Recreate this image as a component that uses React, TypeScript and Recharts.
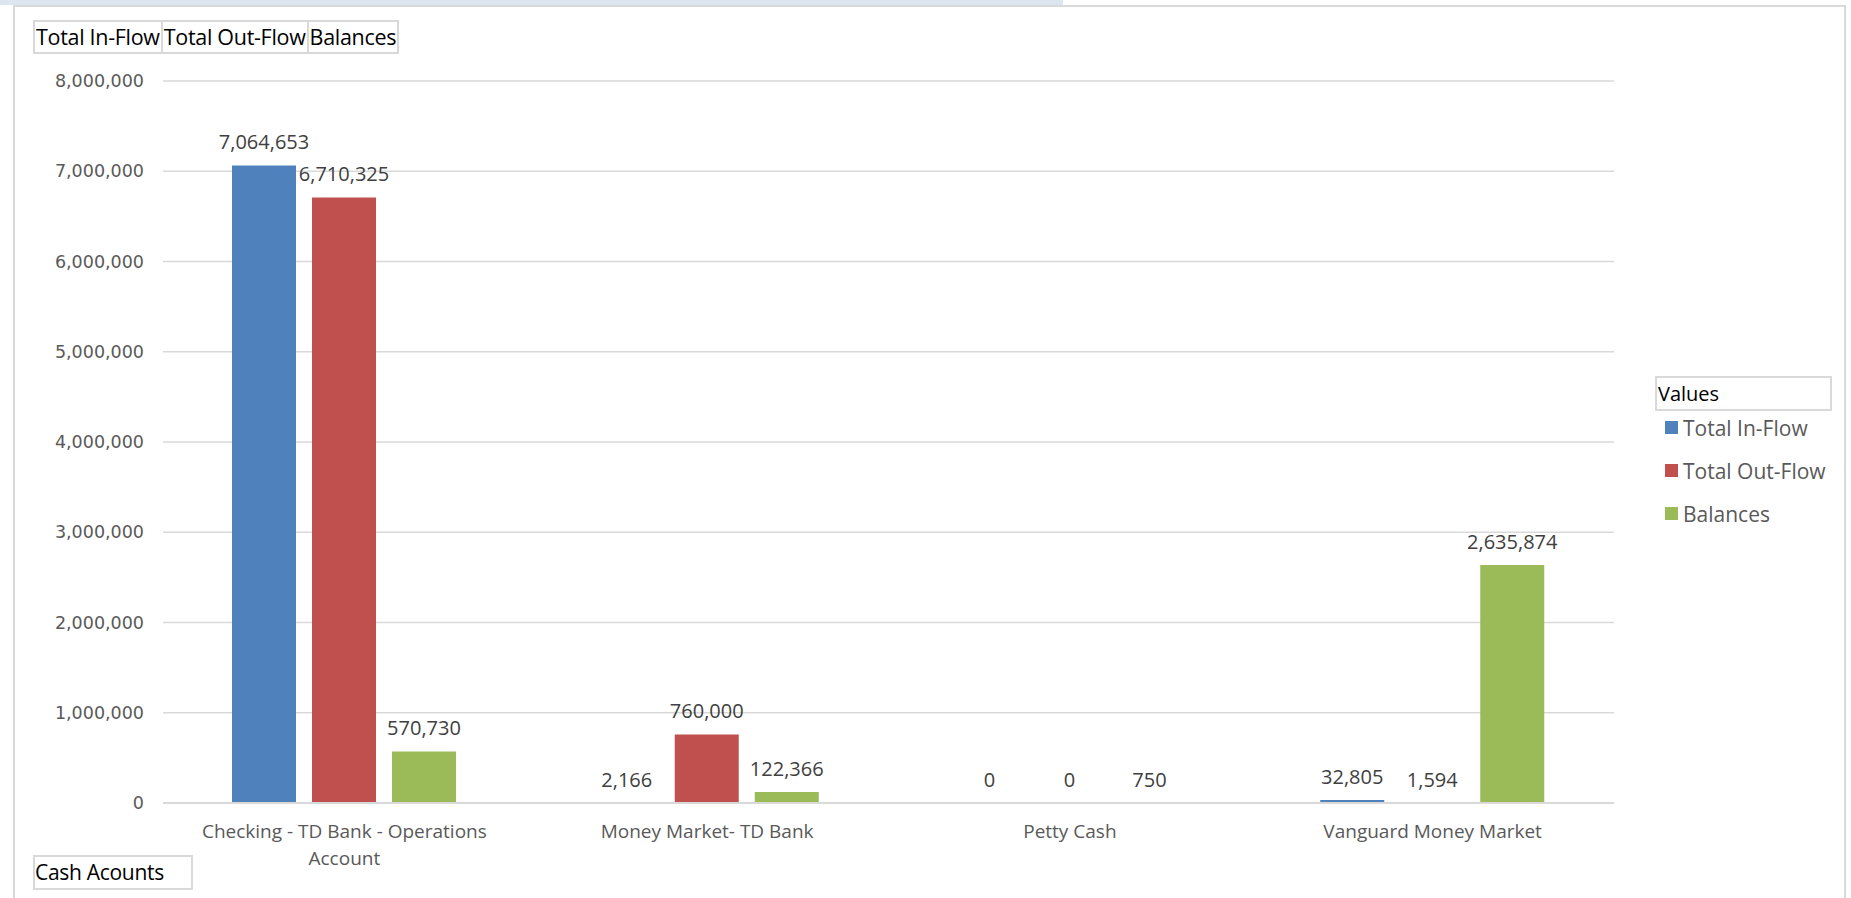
import React from "react"
import { Bar, BarChart, CartesianGrid, LabelList, Legend, XAxis, YAxis } from "recharts"

const categories = [
  "Checking - TD Bank - Operations Account",
  "Money Market- TD Bank",
  "Petty Cash",
  "Vanguard Money Market",
]
const inFlow = [7064653, 2166, 0, 32805]
const outFlow = [6710325, 760000, 0, 1594]
const balances = [570730, 122366, 750, 2635874]
const yTicks = [0, 1000000, 2000000, 3000000, 4000000, 5000000, 6000000, 7000000, 8000000]

const seriesNames = ["Total In-Flow", "Total Out-Flow", "Balances"]
const colors = ["#4F81BD", "#C0504D", "#9BBB59"]

const data = categories.map((name, i) => ({
  name,
  inFlow: inFlow[i],
  outFlow: outFlow[i],
  balances: balances[i],
}))

const labelFont = "'Open Sans', sans-serif"
const fmt = (v: number) => v.toLocaleString("en-US")

let ctx: CanvasRenderingContext2D | null = null
function measure(s: string, font: string) {
  if (!ctx) ctx = document.createElement("canvas").getContext("2d")
  if (!ctx) return s.length * 9
  ctx.font = font
  return ctx.measureText(s).width
}

// greedy word wrap, like Excel does for long category names
function wrap(text: string, maxWidth: number, font: string) {
  const lines: string[] = []
  let cur = ""
  for (const w of text.split(" ")) {
    const next = cur ? cur + " " + w : w
    if (cur && measure(next, font) > maxWidth) {
      lines.push(cur)
      cur = w
    } else {
      cur = next
    }
  }
  if (cur) lines.push(cur)
  return lines
}

function CategoryTick({ x, y, payload }: any) {
  const lines = wrap(payload.value, 300, "19px 'Open Sans'")
  return (
    <text x={x} y={y} textAnchor="middle" fill="#595959" fontSize={19} fontFamily={labelFont}>
      {lines.map((l, i) => (
        <tspan key={i} x={x} dy={i === 0 ? "0.9em" : 27}>
          {l}
        </tspan>
      ))}
    </text>
  )
}

function LegendBox() {
  return (
    <div style={{ fontFamily: labelFont, textAlign: "left" }}>
      <div
        style={{
          width: 172,
          height: 31,
          border: "2px solid #d9d9d9",
          fontSize: 20,
          color: "#000",
          lineHeight: "31px",
          paddingLeft: 1,
          boxSizing: "content-box",
          marginBottom: -5,
        }}
      >
        Values
      </div>
      {seriesNames.map((s, i) => (
        <div key={s} style={{ display: "flex", alignItems: "center", height: 43, paddingLeft: 10 }}>
          <span style={{ width: 13, height: 13, background: colors[i], marginRight: 5 }} />
          <span style={{ fontSize: 21, color: "#595959" }}>{s}</span>
        </div>
      ))}
    </div>
  )
}

const boxCell: React.CSSProperties = {
  display: "inline-block",
  borderRight: "2px solid #d9d9d9",
  padding: "0 1px",
  lineHeight: "30px",
}

export default function App() {
  return (
    <div style={{ position: "relative", width: 1851, height: 898, background: "#fff", overflow: "hidden" }}>
      <style>{"body{margin:0}"}</style>
      {/* top strip and frame */}
      <div style={{ position: "absolute", left: 0, top: 0, width: 1063, height: 5, background: "#dce6f1" }} />
      <div
        style={{
          position: "absolute",
          left: 13,
          top: 5,
          width: 1829,
          height: 900,
          borderTop: "2px solid #d9d9d9",
          borderLeft: "2px solid #d9d9d9",
          borderRight: "2px solid #d9d9d9",
        }}
      />

      <div
        style={{
          position: "absolute",
          left: 33,
          top: 20,
          border: "2px solid #d9d9d9",
          borderRight: "none",
          fontFamily: labelFont,
          fontSize: 21.5,
          letterSpacing: -0.3,
          color: "#000",
          whiteSpace: "nowrap",
          display: "flex",
        }}
      >
        {seriesNames.map((s) => (
          <span key={s} style={boxCell}>
            {s}
          </span>
        ))}
      </div>

      <div
        style={{
          position: "absolute",
          left: 33,
          top: 855,
          width: 156,
          height: 31,
          border: "2px solid #d9d9d9",
          fontFamily: labelFont,
          fontSize: 21,
          letterSpacing: -0.3,
          lineHeight: "31px",
          color: "#000",
          whiteSpace: "nowrap",
        }}
      >
        Cash Acounts
      </div>

      <div style={{ position: "absolute", left: 0, top: 0 }}>
        <BarChart
          width={1851}
          height={898}
          data={data}
          margin={{ top: 81, right: 237, bottom: 35, left: 13 }}
          barSize={64}
          barGap={16}
        >
          <CartesianGrid vertical={false} stroke="#d9d9d9" strokeWidth={1.5} />
          <XAxis
            dataKey="name"
            interval={0}
            height={60}
            tickLine={false}
            axisLine={{ stroke: "#d9d9d9", strokeWidth: 2 }}
            tick={<CategoryTick />}
            tickMargin={12}
          />
          <YAxis
            width={150}
            domain={[0, 8000000]}
            ticks={yTicks}
            tickFormatter={fmt}
            tickLine={false}
            axisLine={false}
            tickMargin={13}
            tick={{ fill: "#595959", fontSize: 17.5, fontFamily: "'DejaVu Sans', sans-serif" }}
          />
          <Legend
            layout="horizontal"
            align="center"
            verticalAlign="middle"
            wrapperStyle={{ left: 1655, top: 376, width: 180 }}
            content={<LegendBox />}
          />
          {["inFlow", "outFlow", "balances"].map((k, i) => (
            <Bar
              key={k}
              dataKey={k}
              name={seriesNames[i]}
              fill={colors[i]}
              minPointSize={0.01}
              isAnimationActive={false}
            >
              <LabelList
                dataKey={k}
                position="top"
                offset={16}
                formatter={(v: any) => fmt(Number(v))}
                fill="#404040"
                fontSize={20}
                fontFamily={labelFont}
              />
            </Bar>
          ))}
        </BarChart>
      </div>
    </div>
  )
}
